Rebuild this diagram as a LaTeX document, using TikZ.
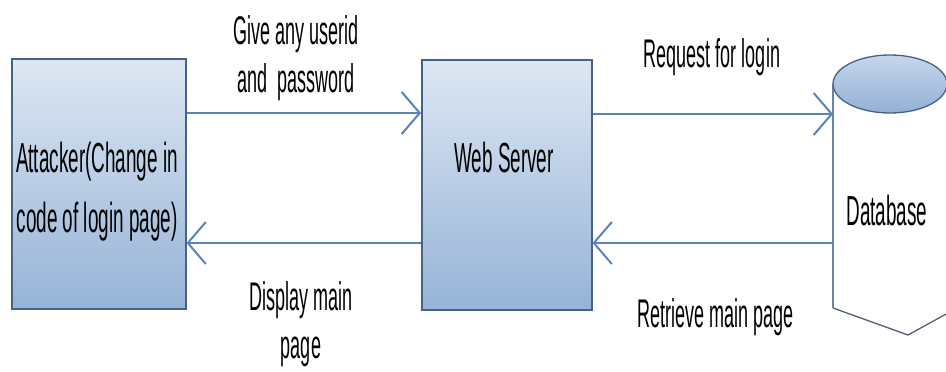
\documentclass[tikz,border=0pt]{standalone}
\usepackage{fontspec}
\setmainfont{Liberation Sans}[FakeStretch=0.45]
\usetikzlibrary{arrows.meta}
\definecolor{boxtop}{RGB}{222,231,243}
\definecolor{boxbot}{RGB}{149,179,215}
\definecolor{boxline}{RGB}{70,98,135}
\definecolor{flow}{RGB}{88,132,186}
\definecolor{dbtop}{RGB}{198,214,236}
\definecolor{dbbot}{RGB}{148,176,213}
\definecolor{dbside}{RGB}{104,134,172}
\definecolor{dbbase}{RGB}{84,96,118}
\begin{document}
\begin{tikzpicture}[x=1pt,y=-1pt,
  blockbox/.style={draw=boxline, line width=1.5pt, top color=boxtop,
    bottom color=boxbot, minimum height=250pt, inner sep=0pt,
    anchor=north west},
  boxtext/.style={align=center, font=\fontsize{42}{60}\selectfont,
    anchor=base, inner sep=0pt},
  flowlabel/.style={align=center, font=\fontsize{40}{48}\selectfont,
    anchor=base, inner sep=0pt},
  flowline/.style={draw=flow, line width=2pt,
    -{Straight Barb[length=18pt,width=42pt]}}]
\useasboundingbox (0,0) rectangle (946,372);
\clip (0,0) rectangle (946,372);
\fill[white] (0,0) rectangle (946,372);

% the two boxes (anchor=base of a two-line text is its last line)
\node[blockbox, minimum width=174pt] (att) at (11,58) {};
\node[blockbox, minimum width=170pt] (web) at (421,59) {};
\node[boxtext] (atttxt) at (97,232) {Attacker(Change in\\code of login page)};
\node[boxtext] (webtxt) at (504,172) {Web Server};

% database cylinder
\fill[white] (833,84) -- (833,308) -- (908,335) -- (948,313) -- (948,84) -- cycle;
\draw[dbside, line width=1.3pt] (833,84) -- (833,308);
\draw[dbbase, line width=1.3pt] (833,308) -- (908,335) -- (948,313);
\draw[boxline, line width=1.3pt, top color=dbtop, bottom color=dbbot]
  (890,84) ellipse [x radius=57pt, y radius=29pt];
\node[boxtext] (dbtxt) at (887,225) {Database};
\coordinate (dbin) at (833,114);
\coordinate (dbout) at (833,243);

% connector heights
\coordinate (upper) at (0,113);
\coordinate (upper2) at (0,114);
\coordinate (lower) at (0,243);

% connectors
\draw[flowline] (att.east |- upper) -- (web.west |- upper);
\draw[flowline] (web.east |- upper2) -- (dbin);
\draw[flowline] (dbout) -- (web.east |- lower);
\draw[flowline] (web.west |- lower) -- (att.east |- lower);

% connector labels
\node[flowlabel] (l1) at (296,92) {Give any userid\\and\ \ password};
\node[flowlabel] (l2) at (712,67) {Request for login};
\node[flowlabel] (l3) at (301,358) {Display main\\page};
\node[flowlabel] (l4) at (716,327) {Retrieve main page};
\end{tikzpicture}
\end{document}
